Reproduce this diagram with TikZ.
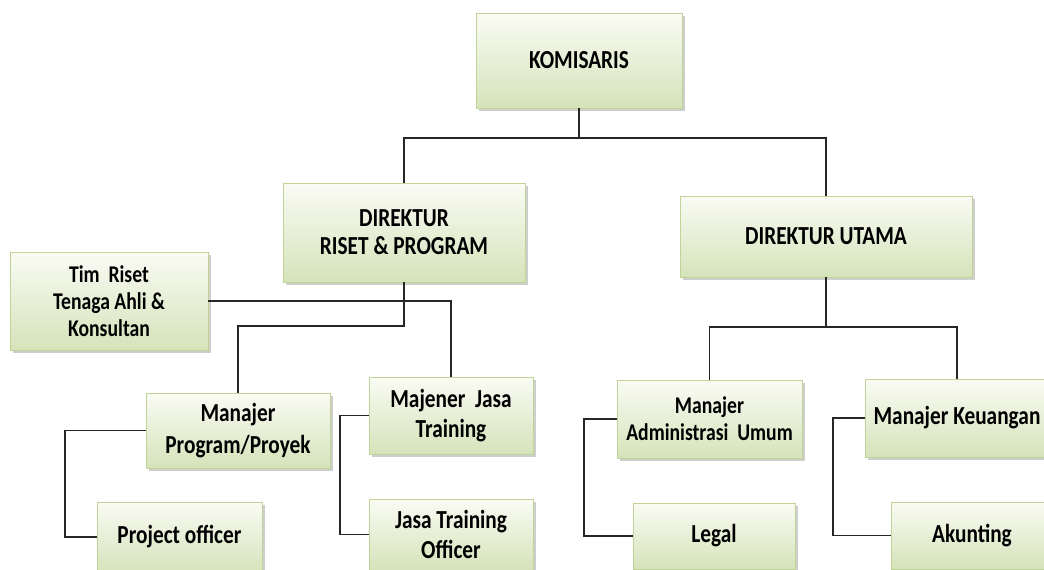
\documentclass[tikz,border=0pt]{standalone}
\usepackage{fontspec}
\setmainfont{Carlito}[FakeStretch=0.82]
\usetikzlibrary{shadows}

\definecolor{boxtop}{RGB}{250,251,244}
\definecolor{boxbot}{RGB}{213,227,186}
\definecolor{boxline}{RGB}{192,212,152}

\tikzset{
  box/.style={draw=boxline, line width=1pt, top color=boxtop, bottom color=boxbot,
    align=center, inner sep=2pt, outer sep=0pt,
    font=\bfseries\fontsize{26}{30}\selectfont,
    drop shadow={shadow xshift=2.5pt, shadow yshift=-3pt, fill=black!38}},
  smalltext/.style={font=\bfseries\fontsize{24}{27}\selectfont},
  link/.style={line width=1.6pt, draw=black!85},
}

\begin{document}
\begin{tikzpicture}[x=1pt,y=-1pt]
\clip (0,0) rectangle (1044,570);
\fill[white] (0,0) rectangle (1044,570);

\node(KOM) [box, minimum width=206pt, minimum height=95pt]            at (579,60.5)  {KOMISARIS};
\node(DRP) [box, minimum width=242pt, minimum height=99pt,
            font=\bfseries\fontsize{26}{28}\selectfont]               at (404,232.5) {DIREKTUR\\RISET \& PROGRAM};
\node(DU)  [box, minimum width=292pt, minimum height=81pt]            at (826,236.5) {DIREKTUR UTAMA};
\node(TIM) [box, smalltext, minimum width=198pt, minimum height=98pt] at (109,301)   {Tim\ \ Riset\\Tenaga Ahli \&\\Konsultan};
\node(MPP) [box, minimum width=184pt, minimum height=75pt,
            font=\bfseries\fontsize{26}{32}\selectfont]               at (238,430.5) {Manajer\\Program/Proyek};
\node(MJT) [box, minimum width=164pt, minimum height=77pt]            at (451,415.5) {Majener\ \ Jasa\\Training};
\node(JTO) [box, minimum width=164pt, minimum height=71pt]            at (451,534.5) {Jasa Training\\Officer};
\node(PO)  [box, minimum width=165pt, minimum height=70pt]            at (179.5,537) {Project officer};
\node(MAU) [box, smalltext, minimum width=185pt, minimum height=78pt] at (709.5,419) {Manajer\\Administrasi\ \ Umum};
\node(MK)  [box, minimum width=184pt, minimum height=78pt]            at (957,418)   {Manajer Keuangan};
\node(LEG) [box, minimum width=162pt, minimum height=66pt]            at (714,536)   {Legal};
\node(AKU) [box, minimum width=162pt, minimum height=67pt]            at (972,535.5) {Akunting};

\draw[link] (KOM.south) -- ++(0,30) coordinate(k1);
\draw[link] (DRP.north) |- (k1) -| (DU.north);
\draw[link] (DRP.south) -- ++(0,44) -| (MPP.north);
\draw[link] (TIM.east)  -| (MJT.north);
\draw[link] (DU.south)  -- ++(0,50) coordinate(d1);
\draw[link] (MAU.north) |- (d1) -| (MK.north);
\draw[link] (MPP.west)  -- ++(-81,0) |- (PO.west);
\draw[link] (MJT.west)  -- ++(-29,0) |- (JTO.west);
\draw[link] (MAU.west)  -- ++(-33,0) |- (LEG.west);
\draw[link] (MK.west)   -- ++(-32,0) |- (AKU.west);
\end{tikzpicture}
\end{document}
